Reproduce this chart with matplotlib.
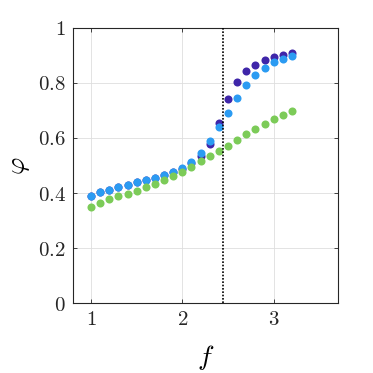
import matplotlib
matplotlib.use("Agg")
import matplotlib.pyplot as plt
import numpy as np

plt.rcParams['mathtext.fontset'] = 'cm'
plt.rcParams['font.family'] = 'serif'
plt.rcParams['font.serif'] = ['DejaVu Serif']

f_vals = [1.0, 1.1, 1.2, 1.3, 1.4, 1.5, 1.6, 1.7, 1.8, 1.9, 2.0, 2.1,
          2.2, 2.3, 2.4, 2.5, 2.6, 2.7, 2.8, 2.9, 3.0, 3.1, 3.2]
phi_dark = [0.391, 0.404, 0.412, 0.422, 0.430, 0.439, 0.446, 0.455, 0.464, 0.475, 0.489, 0.509,
            0.535, 0.577, 0.654, 0.740, 0.804, 0.842, 0.865, 0.882, 0.894, 0.902, 0.908]
phi_blue = [0.391, 0.404, 0.412, 0.422, 0.430, 0.439, 0.446, 0.455, 0.464, 0.475, 0.490, 0.511,
            0.546, 0.588, 0.639, 0.692, 0.746, 0.793, 0.830, 0.855, 0.874, 0.888, 0.899]
phi_green = [0.349, 0.364, 0.377, 0.388, 0.398, 0.409, 0.421, 0.433, 0.447, 0.462, 0.478, 0.495,
             0.516, 0.533, 0.554, 0.572, 0.594, 0.614, 0.634, 0.651, 0.668, 0.682, 0.698]
f_critical = 2.445

x_ticks = [1, 2, 3]
y_ticks = [0, 0.2, 0.4, 0.6, 0.8, 1]
y_tick_labels = ['$0$', '$0.2$', '$0.4$', '$0.6$', '$0.8$', '$1$']
x_tick_labels = ['$1$', '$2$', '$3$']

fig = plt.figure(figsize=(3.73, 3.73), dpi=100)
ax = fig.add_axes([72.7/373, 1 - 303.3/373, (337.7-72.7)/373, (303.3-27.7)/373])

ms = 5.8
ax.plot(f_vals, phi_dark, 'o', color='#3F26A9', ms=ms, mec='none', zorder=3)
ax.plot(f_vals, phi_blue, 'o', color='#2B9BF2', ms=ms, mec='none', zorder=4)
ax.plot(f_vals, phi_green, 'o', color='#7CCB58', ms=ms, mec='none', zorder=5)
ax.axvline(f_critical, color='black', ls=(0, (1, 1)), lw=1.2, zorder=6)

ax.set_xlim(0.8, 3.7)
ax.set_ylim(0, 1)
ax.set_xticks(x_ticks)
ax.set_xticklabels(x_tick_labels)
ax.set_yticks(y_ticks)
ax.set_yticklabels(y_tick_labels)
ax.grid(True, color='#dedede', lw=0.6, zorder=0)
ax.set_axisbelow(True)
for s in ax.spines.values():
    s.set_color('#262626')
    s.set_linewidth(0.8)
ax.tick_params(direction='in', length=3, width=0.6, colors='#262626',
               top=True, right=True, labelsize=15, pad=5)
ax.set_xlabel(r'$f$', fontsize=20, labelpad=10)
ax.set_ylabel(r'$\varphi$', fontsize=19, labelpad=4)

fig.savefig('out.png', dpi=100)
